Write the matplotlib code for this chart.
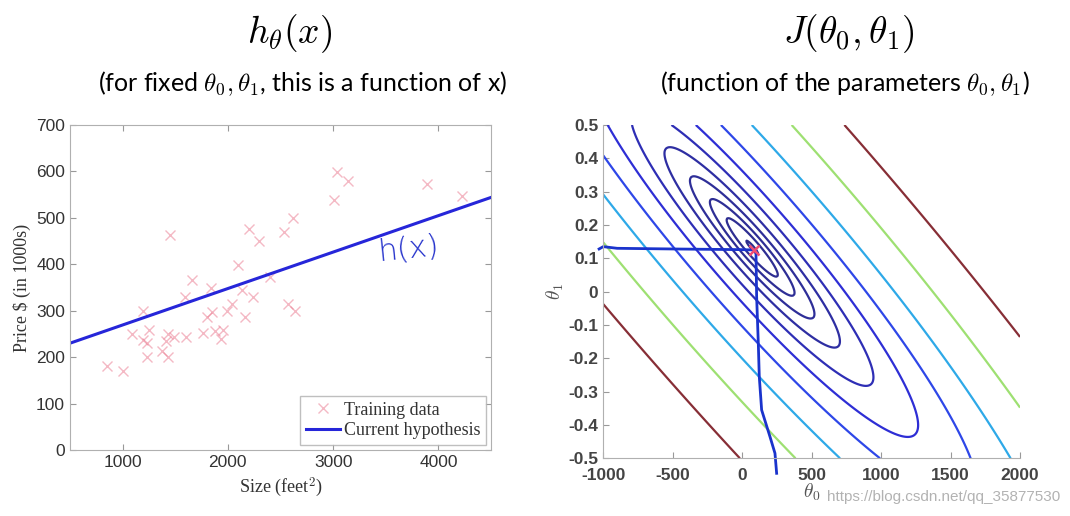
import numpy as np
import matplotlib
matplotlib.use("Agg")
import matplotlib.pyplot as plt
from matplotlib import cm
from matplotlib.colors import Normalize

plt.rcParams['mathtext.fontset'] = 'cm'
plt.rcParams['axes.unicode_minus'] = False

# training data (size in feet^2, price in $1000s)
sizes = [850, 1000, 1090, 1195, 1195, 1230, 1255, 1228, 1375, 1412, 1428, 1452,
         1428, 1488, 1600, 1590, 1660, 1765, 1805, 1846, 1840, 1880, 1932, 1958,
         1988, 2038, 2095, 2135, 2158, 2200, 2240, 2298, 2396, 2532, 2570, 2617,
         2638, 3008, 3037, 3142, 3895, 4224]
prices = [180, 170, 250, 299, 237, 231, 258, 200, 214, 234, 201, 464,
          250, 244, 244, 330, 367, 253, 287, 298, 349, 256, 240, 259,
          299, 315, 399, 345, 287, 475, 330, 450, 372, 470, 314, 499,
          299, 539, 598, 579, 573, 548]

# current hypothesis drawn on the left
hyp_theta0 = 190.75
hyp_theta1 = 0.0785

# hand drawn path on the contour plot
path_theta0 = [-1030, -1000, -900, -500, 0, 80, 99, 104, 116, 123, 140, 200, 236, 248]
path_theta1 = [0.128, 0.135, 0.130, 0.128, 0.126, 0.125, 0.125, -0.015, -0.155, -0.255,
               -0.355, -0.435, -0.485, -0.545]
marker_theta = (87, 0.125)

levels = np.logspace(1, 6, 20)

fig = plt.figure(figsize=(10.70, 5.16), dpi=100)

# ---- left: hypothesis ----
ax1 = fig.add_axes([0.0654, 0.1279, 0.3935, 0.6299])
ax1.plot(sizes, prices, 'x', color=(0.92, 0.5, 0.58), alpha=0.55, ms=7, mew=1.0,
         label='Training data')
xs = np.array([500, 4500])
ax1.plot(xs, hyp_theta0 + hyp_theta1 * xs, color=(0.15, 0.15, 0.85), lw=2.2,
         label='Current hypothesis')
ax1.set_xlim(500, 4500)
ax1.set_ylim(0, 700)
ax1.set_xticks([1000, 2000, 3000, 4000])
ax1.set_yticks(range(0, 701, 100))
ax1.tick_params(direction='in', top=True, right=True, length=4, colors='#999999',
                labelcolor='#333333', labelsize=12.5)
for lab in ax1.get_xticklabels() + ax1.get_yticklabels():
    lab.set_family('Liberation Sans')
for s in ax1.spines.values():
    s.set_color('#b0b0b0')
ax1.set_xlabel('Size (feet$^2$)', family='Liberation Serif', fontsize=13, color='#333333',
               labelpad=4)
ax1.set_ylabel('Price \\$ (in 1000s)', family='Liberation Serif', fontsize=13,
               color='#333333', labelpad=4)
leg = ax1.legend(loc='lower right', prop={'family': 'Liberation Serif', 'size': 13},
                 fancybox=False, edgecolor='#b0b0b0', borderaxespad=0.3,
                 handlelength=1.9, handletextpad=0.2, borderpad=0.3, labelspacing=0.2)
for t in leg.get_texts():
    t.set_color('#333333')
ax1.text(3720, 432, 'h(x)', color=(0.15, 0.2, 0.8), fontsize=22, rotation=6,
         family='DejaVu Sans', fontweight='light', ha='center', va='center')

# ---- right: cost function contours ----
ax2 = fig.add_axes([0.5638, 0.1118, 0.3895, 0.6460])
t0 = np.linspace(-1000, 2000, 300)
t1 = np.linspace(-0.5, 0.5, 300)
T0, T1 = np.meshgrid(t0, t1)
x = np.array(sizes, dtype=float)
y = np.array(prices, dtype=float)
J = ((T0[..., None] + T1[..., None] * x - y) ** 2).mean(axis=-1) / 2
# jet colours, washed out a little like the video frame
norm = Normalize(vmin=levels[0], vmax=levels[-1])
wash = np.array([0.6, 0.6, 0.7])
lvl_colors = [tuple(0.7 * np.array(cm.jet(norm(v))[:3]) + 0.3 * wash) for v in levels]
ax2.contour(T0, T1, J, levels=levels, colors=lvl_colors, linewidths=1.6)
ax2.plot(path_theta0, path_theta1, color=(0.1, 0.2, 0.8), lw=2.0, clip_on=False)
ax2.plot(*marker_theta, 'x', color=(0.95, 0.3, 0.45), ms=7, mew=1.8)
ax2.set_xlim(-1000, 2000)
ax2.set_ylim(-0.5, 0.5)
ax2.set_xticks(range(-1000, 2001, 500))
ax2.set_yticks(np.round(np.arange(-0.5, 0.51, 0.1), 1))
ax2.set_yticklabels(['-0.5', '-0.4', '-0.3', '-0.2', '-0.1', '0', '0.1', '0.2', '0.3',
                     '0.4', '0.5'])
ax2.tick_params(direction='in', length=4, colors='#999999', labelcolor='#444444',
                labelsize=12.5)
ax2.tick_params(axis='x', pad=7)
for lab in ax2.get_xticklabels() + ax2.get_yticklabels():
    lab.set_family('Liberation Sans')
    lab.set_fontweight('bold')
ax2.spines['top'].set_visible(False)
ax2.spines['right'].set_visible(False)
for s in ('left', 'bottom'):
    ax2.spines[s].set_color('#b0b0b0')
ax2.set_xlabel(r'$\theta_0$', fontsize=14, color='#555555', labelpad=-1)
ax2.set_ylabel(r'$\theta_1$', fontsize=14, color='#555555', labelpad=2)

# ---- titles ----
fig.text(0.271, 0.934, r'$h_\theta(x)$', fontsize=27, ha='center', va='center')
fig.text(0.7935, 0.934, r'$J(\theta_0,\theta_1)$', fontsize=27, ha='center', va='center')
fig.text(0.283, 0.838, r'(for fixed $\theta_0,\theta_1$, this is a function of x)',
         fontsize=18, family='Lato', ha='center', va='center')
fig.text(0.790, 0.838, r'(function of the parameters $\theta_0,\theta_1$)',
         fontsize=18, family='Lato', ha='center', va='center')

fig.text(0.991, 0.036, 'https://blog.csdn.net/qq_35877530', fontsize=11,
         color='#aaaaaa', alpha=0.9, ha='right', va='center', family='Liberation Sans')

fig.savefig('out.png', dpi=100)
